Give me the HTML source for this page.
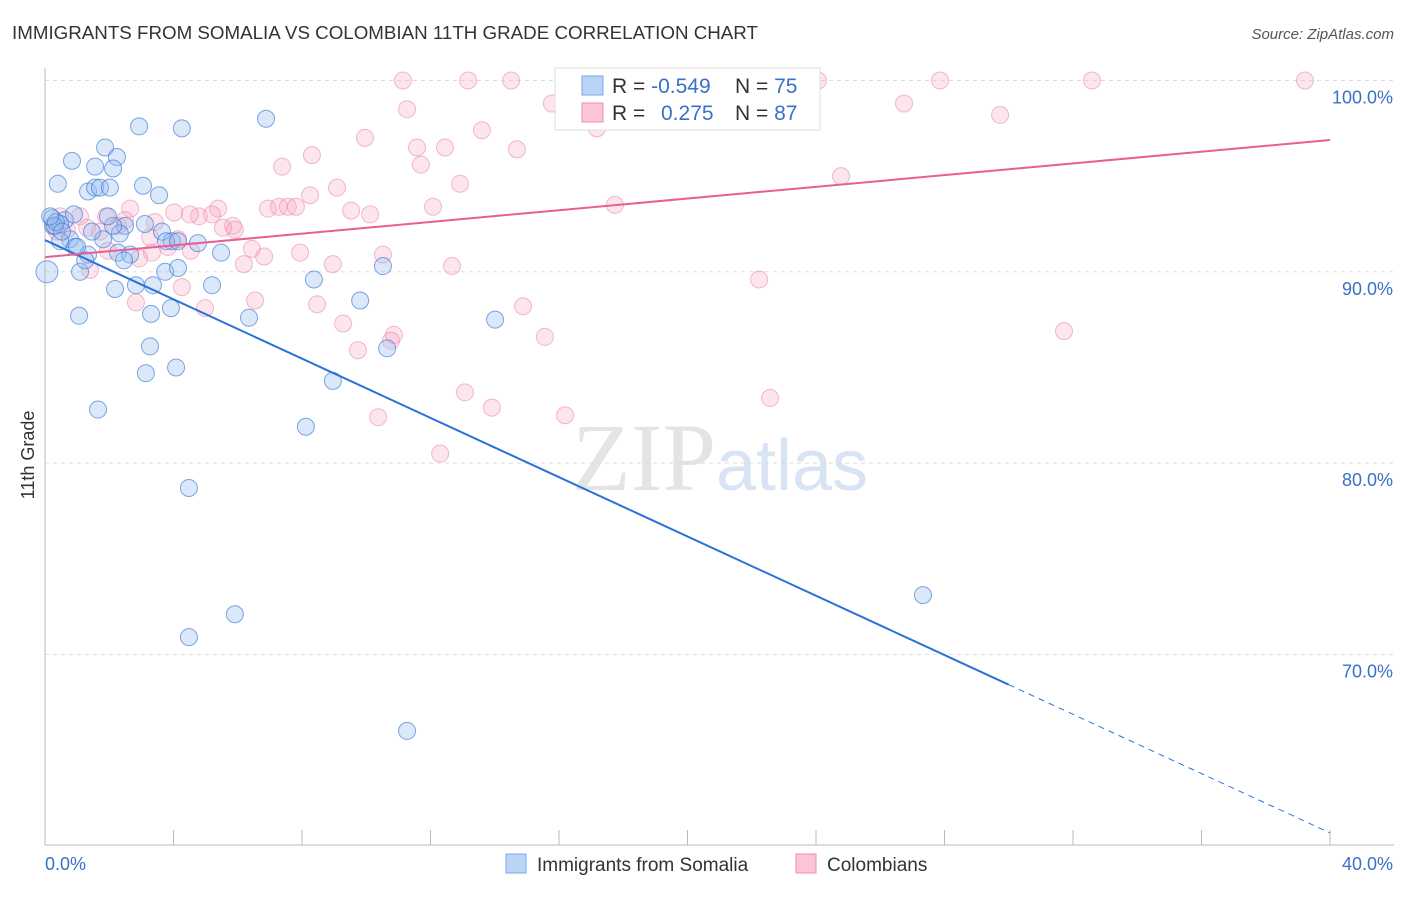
<!DOCTYPE html>
<html><head><meta charset="utf-8"><style>
body{margin:0;background:#fff;font-family:"Liberation Sans",sans-serif}
</style></head><body>
<svg width="1406" height="892" xmlns="http://www.w3.org/2000/svg" font-family="Liberation Sans, sans-serif">
<text x="12" y="39" font-size="18.75" fill="#333">IMMIGRANTS FROM SOMALIA VS COLOMBIAN 11TH GRADE CORRELATION CHART</text>
<text x="1394" y="39" font-size="15" fill="#555" text-anchor="end" font-style="italic">Source: ZipAtlas.com</text>
<text x="720" y="490" font-size="96" fill="#e4e4e4" text-anchor="middle" font-family="Liberation Serif, serif">ZIP<tspan fill="#d8e4f4" font-family="Liberation Sans, sans-serif" font-size="72">atlas</tspan></text>
<g id="grid"></g><g id="axes"></g><g id="pts"></g><g id="lines"></g>
<text transform="translate(34,455) rotate(-90)" font-size="18" fill="#333" text-anchor="middle">11th Grade</text>
<g>
<rect x="555" y="68" width="265" height="62" fill="#fff" stroke="#ddd"/>
<rect x="582" y="76" width="21" height="19" fill="#b9d4f5" stroke="#7aa8e6"/>
<rect x="582" y="103" width="21" height="19" fill="#fcc5d6" stroke="#ef8eae"/>
<text x="612" y="93" font-size="21" fill="#333">R = <tspan fill="#3a70c8">-0.549</tspan></text>
<text x="735" y="93" font-size="21" fill="#333">N = <tspan fill="#3a70c8">75</tspan></text>
<text x="612" y="120" font-size="21" fill="#333">R = <tspan fill="#3a70c8" x="661">0.275</tspan></text>
<text x="735" y="120" font-size="21" fill="#333">N = <tspan fill="#3a70c8">87</tspan></text>
</g>
<g>
<rect x="506" y="854" width="20" height="19" fill="#b9d4f5" stroke="#7aa8e6"/>
<text x="537" y="871" font-size="19" fill="#333">Immigrants from Somalia</text>
<rect x="796" y="854" width="20" height="19" fill="#fcc5d6" stroke="#ef8eae"/>
<text x="827" y="871" font-size="19" fill="#333">Colombians</text>
</g>
</svg>
<script>
const blueX=[2.93,4.26,6.88,1.87,2.24,0.84,1.56,2.12,0.40,1.34,1.56,1.71,2.02,3.05,3.55,0.22,0.62,0.25,0.47,3.11,3.64,2.49,2.33,1.81,3.95,4.76,0.31,0.78,0.93,1.34,2.27,2.65,2.46,3.77,4.14,5.48,0.06,1.09,3.74,4.14,2.18,2.83,3.36,5.20,8.37,10.52,9.81,3.92,1.06,3.30,6.35,14.01,3.27,10.65,3.14,4.08,8.96,1.65,8.12,4.48,5.91,4.48,11.27,27.33,0.90,0.34,0.47,1.46,2.12,1.96,1.00,1.25,0.53,0.16];
const blueY=[97.6,97.5,98.0,96.5,96.0,95.8,95.5,95.4,94.6,94.2,94.4,94.4,94.4,94.5,94.0,92.8,92.7,92.4,92.5,92.5,92.1,92.4,92.0,91.7,91.6,91.5,92.4,91.7,91.3,90.9,91.0,90.9,90.6,91.6,91.6,91.0,90.0,90.0,90.0,90.2,89.1,89.3,89.3,89.3,89.6,90.3,88.5,88.1,87.7,87.8,87.6,87.5,86.1,86.0,84.7,85.0,84.3,82.8,81.9,78.7,72.1,70.9,66.0,73.1,93.0,92.6,91.6,92.1,92.4,92.9,91.3,90.6,92.1,92.9];
const pinkX=[11.14,13.17,14.51,19.46,24.06,27.86,32.59,39.22,11.27,15.78,26.74,29.73,13.60,9.96,17.18,14.69,11.58,12.45,7.38,8.31,11.70,12.92,9.09,8.25,24.78,17.74,12.08,9.53,10.12,6.94,7.28,7.56,7.81,5.39,4.79,5.20,5.85,5.91,5.54,2.65,1.90,1.09,0.47,0.28,0.68,1.31,1.71,2.27,3.42,4.02,4.51,4.14,3.27,3.83,4.54,3.33,6.44,6.82,7.94,10.52,12.67,6.19,8.96,1.96,2.93,1.40,22.23,6.54,8.47,2.83,4.26,4.98,14.88,15.56,9.28,10.86,10.77,9.74,31.72,22.57,13.07,13.91,10.37,16.19,12.30,0.37,2.49];
const pinkY=[100,100,100,100,100,100,100,100,98.5,98.8,98.8,98.2,97.4,97.0,97.5,96.4,96.5,96.5,95.5,96.1,95.6,94.6,94.4,94.0,95.0,93.5,93.4,93.2,93.0,93.3,93.4,93.4,93.4,93.3,92.9,93.0,92.4,92.2,92.3,93.3,92.9,92.9,92.9,92.4,92.2,92.3,92.1,92.4,92.6,93.1,93.0,91.7,91.8,91.3,91.1,91.0,91.2,90.8,91.0,90.9,90.3,90.4,90.4,91.1,90.7,90.1,89.6,88.5,88.3,88.4,89.2,88.1,88.2,86.6,87.3,86.7,86.4,85.9,86.9,83.4,83.7,82.9,82.4,82.5,80.5,92.1,92.7];
const yTicks=[100,90,80,70];
const yTickLabels=["100.0%","90.0%","80.0%","70.0%"];
const xTickVals=[0,4,8,12,16,20,24,28,32,36,40];
const blueTrend=[91.66,60.67];
const blueSolidEnd=30.0;
const pinkTrend=[90.77,96.89];
const NS="http://www.w3.org/2000/svg";
const X0=45,X1=1330,Y100=80.5,PPU=19.13;
const sx=v=>X0+(v/40)*(X1-X0);
const sy=v=>Y100+(100-v)*PPU;
function mk(tag,attrs,parent){const e=document.createElementNS(NS,tag);for(const k in attrs)e.setAttribute(k,attrs[k]);document.getElementById(parent).appendChild(e);return e;}
yTicks.forEach((t,i)=>{
 const g=mk('line',{x1:X0,x2:1394,y1:sy(t),y2:sy(t),stroke:'#ddd','stroke-dasharray':'4,4'},'grid');
 
 
 const tx=mk('text',{x:1393,y:sy(t)+23,'font-size':18,fill:'#3a70c8','text-anchor':'end'},'axes');
 tx.textContent=yTickLabels[i];
 
 
});
const ax=mk('line',{x1:X0,x2:X0,y1:68,y2:845,stroke:'#bbb'},'axes');


const bx=mk('line',{x1:X0,x2:1394,y1:845,y2:845,stroke:'#bbb'},'axes');


xTickVals.forEach(v=>{
 const t=mk('line',{x1:sx(v),x2:sx(v),y1:830,y2:845,stroke:'#bbb'},'axes');
 
 
});
const l0=mk('text',{x:45,y:870,'font-size':18,fill:'#3a70c8'},'axes');l0.textContent='0.0%';


const l1=mk('text',{x:1393,y:870,'font-size':18,fill:'#3a70c8','text-anchor':'end'},'axes');l1.textContent='40.0%';


pinkX.forEach((v,i)=>{
 const c=mk('circle',{cx:sx(v),cy:sy(pinkY[i]),r:8.5,fill:'rgba(248,170,195,0.3)',stroke:'rgba(235,130,165,0.55)','stroke-width':1},'pts');
 
 
});
blueX.forEach((v,i)=>{
 const c=mk('circle',{cx:sx(v),cy:sy(blueY[i]),r:i===36?11:8.5,fill:'rgba(150,190,240,0.35)',stroke:'rgba(60,120,210,0.65)','stroke-width':1},'pts');
 
 
});
const bAt=x=>blueTrend[0]+(blueTrend[1]-blueTrend[0])*x/40;
const pAt=x=>pinkTrend[0]+(pinkTrend[1]-pinkTrend[0])*x/40;
const b1=mk('line',{x1:sx(0),y1:sy(bAt(0)),x2:sx(blueSolidEnd),y2:sy(bAt(blueSolidEnd)),stroke:'#2a72d8','stroke-width':2},'lines');


const b2=mk('line',{x1:sx(blueSolidEnd),y1:sy(bAt(blueSolidEnd)),x2:sx(40),y2:sy(bAt(40)),stroke:'#2a72d8','stroke-width':1,'stroke-dasharray':'6,5'},'lines');


const p1=mk('line',{x1:sx(0),y1:sy(pAt(0)),x2:sx(40),y2:sy(pAt(40)),stroke:'#e8608e','stroke-width':2},'lines');


</script>
</body></html>
